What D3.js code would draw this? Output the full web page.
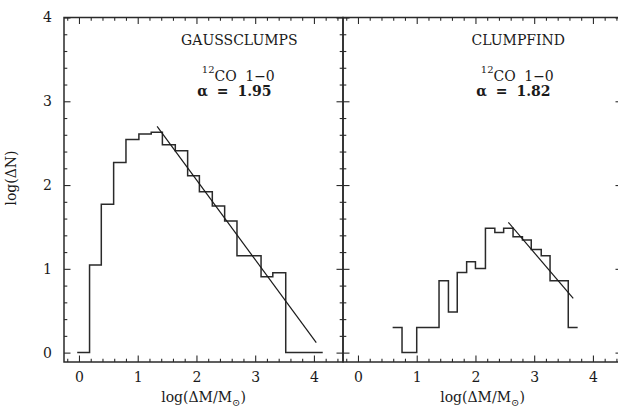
<!DOCTYPE html>
<html><head><meta charset="utf-8">
<script src="https://cdn.jsdelivr.net/npm/d3@7/dist/d3.min.js"></script>
<style>
body{margin:0;background:#fff}
text{font-family:"DejaVu Serif",serif;fill:#1a1a1a}
</style>
</head><body>
<svg id="c" width="618" height="409"></svg>
<script>
// ---- data ----
const gaussEdges = [-0.03,0.18,0.38,0.59,0.80,1.02,1.23,1.42,1.64,1.85,2.05,2.27,2.48,2.69,2.89,3.10,3.30,3.52,3.73,3.94,4.15];
const gaussLogN  = [0,1.045,1.77,2.27,2.545,2.61,2.63,2.48,2.41,2.11,1.92,1.75,1.57,1.155,1.155,0.905,0.953,0,0,0];
const gaussFitX  = [1.33,4.04];
const gaussFitY  = [2.70,0.12];
const clumpEdges = [0.59,0.75,1.0,1.38,1.54,1.69,1.85,2.0,2.17,2.33,2.48,2.64,2.80,2.95,3.12,3.27,3.58,3.74];
const clumpLogN  = [0.30,0,0.30,0.857,0.484,0.957,1.085,1.005,1.483,1.435,1.483,1.383,1.343,1.232,1.156,0.857,0.30];
const clumpFitX  = [2.56,3.665];
const clumpFitY  = [1.555,0.647];
const xTickVals  = [0,1,2,3,4];
const yTickVals  = [0,1,2,3,4];
const panelNames = ["GAUSSCLUMPS","CLUMPFIND"];
const alphaVals  = ["1.95","1.82"];
const lineName   = ["CO 1\u22120"];

// ---- layout ----
const svg = d3.select("#c");
const yTop = 17.5, yBottom = 362;
const panels = [
  {x0:64, x1:343, edges:gaussEdges, vals:gaussLogN, fx:gaussFitX, fy:gaussFitY, name:panelNames[0], alpha:alphaVals[0], yLabels:true},
  {x0:343, x1:622, edges:clumpEdges, vals:clumpLogN, fx:clumpFitX, fy:clumpFitY, name:panelNames[1], alpha:alphaVals[1], yLabels:false}
];
const y = d3.scaleLinear().domain([-0.112,4]).range([yBottom, yTop]);
const minorX = d3.range(-1,23).map(i=>+(i*0.2).toFixed(2)).filter(v=>v>-0.25 && v<4.5 && Math.abs(v-Math.round(v))>1e-6);
const minorY = d3.range(0,21).map(i=>+(i*0.2).toFixed(2)).filter(v=>Math.abs(v-Math.round(v))>1e-6);
const stroke = "#2a2a2a";

panels.forEach(p => {
  const x = d3.scaleLinear().domain([-0.255,4.495]).range([p.x0, p.x1]);
  const g = svg.append("g");

  g.append("rect").attr("x",p.x0).attr("y",yTop).attr("width",p.x1-p.x0).attr("height",yBottom-yTop)
    .attr("fill","none").attr("stroke",stroke).attr("stroke-width",1.5);

  const styleAxis = sel => { sel.select(".domain").remove(); sel.selectAll("line").attr("stroke",stroke).attr("stroke-width",1.1); sel.selectAll("text").style("font-family","DejaVu Serif").style("font-size","14px").attr("fill","#1a1a1a"); };

  g.append("g").attr("transform",`translate(0,${yBottom})`)
    .call(d3.axisBottom(x).tickValues(xTickVals).tickSizeInner(-6.5).tickSizeOuter(0).tickPadding(10).tickFormat(d3.format("d")))
    .call(styleAxis);
  g.append("g").attr("transform",`translate(0,${yBottom})`)
    .call(d3.axisBottom(x).tickValues(minorX).tickSizeInner(-3.3).tickSizeOuter(0).tickFormat(""))
    .call(styleAxis);
  g.append("g").attr("transform",`translate(0,${yTop})`)
    .call(d3.axisTop(x).tickValues(xTickVals).tickSizeInner(-6.5).tickSizeOuter(0).tickFormat(""))
    .call(styleAxis);
  g.append("g").attr("transform",`translate(0,${yTop})`)
    .call(d3.axisTop(x).tickValues(minorX).tickSizeInner(-3.3).tickSizeOuter(0).tickFormat(""))
    .call(styleAxis);
  g.append("g").attr("transform",`translate(${p.x0},0)`)
    .call(d3.axisLeft(y).tickValues(yTickVals).tickSizeInner(-6.5).tickSizeOuter(0).tickPadding(12).tickFormat(p.yLabels ? d3.format("d") : ""))
    .call(styleAxis);
  g.append("g").attr("transform",`translate(${p.x0},0)`)
    .call(d3.axisLeft(y).tickValues(minorY).tickSizeInner(-3.3).tickSizeOuter(0).tickFormat(""))
    .call(styleAxis);
  g.append("g").attr("transform",`translate(${p.x1},0)`)
    .call(d3.axisRight(y).tickValues(yTickVals).tickSizeInner(-6.5).tickSizeOuter(0).tickFormat(""))
    .call(styleAxis);
  g.append("g").attr("transform",`translate(${p.x1},0)`)
    .call(d3.axisRight(y).tickValues(minorY).tickSizeInner(-3.3).tickSizeOuter(0).tickFormat(""))
    .call(styleAxis);

  const pts = [];
  p.vals.forEach((v,i) => { pts.push([p.edges[i], v]); pts.push([p.edges[i+1], v]); });
  g.append("path").datum(pts)
    .attr("d", d3.line().x(d=>x(d[0])).y(d=>y(d[1])))
    .attr("fill","none").attr("stroke",stroke).attr("stroke-width",1.5);

  g.append("path").datum(p.fx.map((v,i)=>[v,p.fy[i]]))
    .attr("d", d3.line().x(d=>x(d[0])).y(d=>y(d[1])))
    .attr("fill","none").attr("stroke","#1a1a1a").attr("stroke-width",1.2);

  const cx = x(2.73);
  g.append("text").attr("x",cx).attr("y",44.5).attr("text-anchor","middle")
    .style("font-size","14px").text(p.name);
  const t = g.append("text").attr("x",cx-1).attr("y",81).attr("text-anchor","middle")
    .style("font-size","14px").style("word-spacing","4px");
  t.append("tspan").style("font-size","10px").attr("dy",-8).text("12");
  t.append("tspan").attr("dy",8).text(lineName[0]);
  g.append("text").attr("x",cx-5).attr("y",96).attr("text-anchor","middle")
    .style("font-size","14px").style("font-weight","bold").style("word-spacing","4px")
    .text("\u03b1 = " + p.alpha);

  const xt = g.append("text").attr("x",(p.x0+p.x1)/2).attr("y",402)
    .attr("text-anchor","middle").style("font-size","14px");
  xt.append("tspan").text("log(\u0394M/M");
  xt.append("tspan").style("font-size","10px").attr("dy",4).text("\u2299");
  xt.append("tspan").attr("dy",-4).text(")");
});

svg.append("text").attr("transform","translate(16,178) rotate(-90)").attr("text-anchor","middle")
  .style("font-size","14px").text("log(\u0394N)");
</script>
</body></html>
